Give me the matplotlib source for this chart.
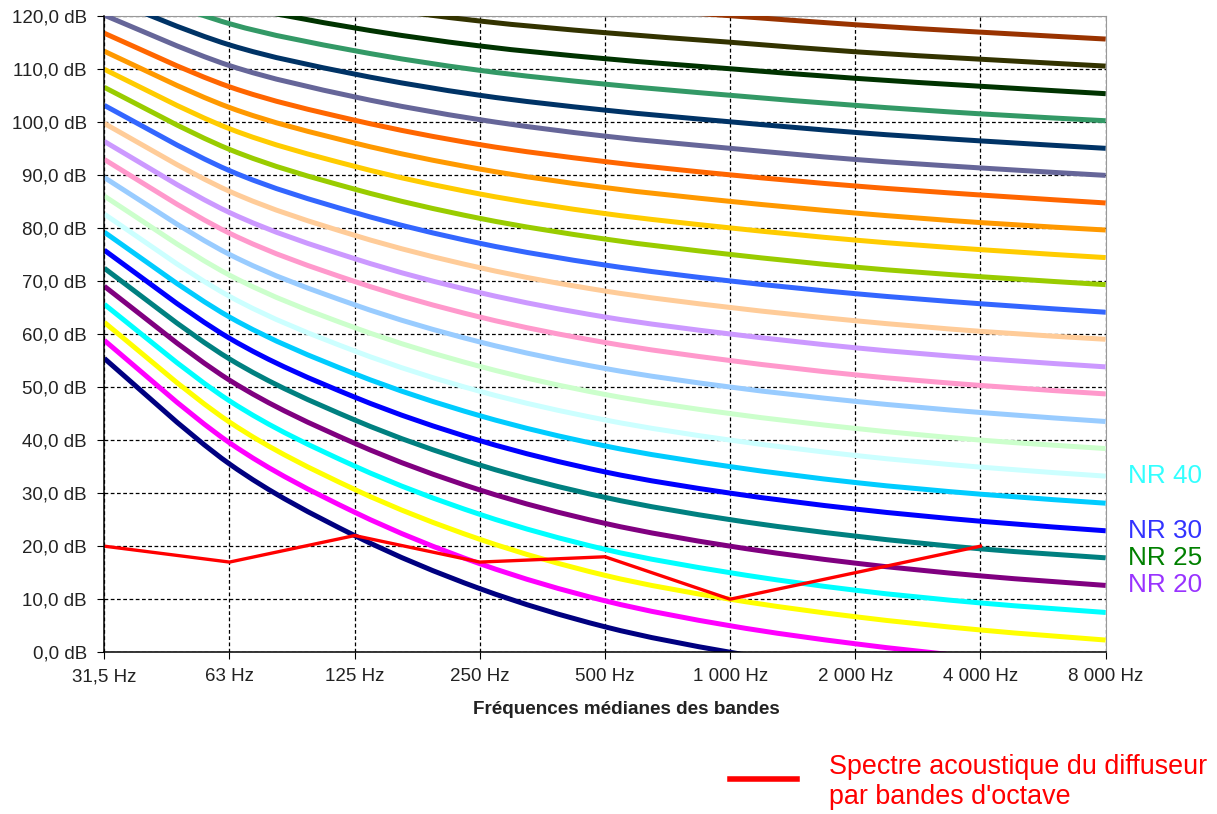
import matplotlib
matplotlib.use("Agg")
import matplotlib.pyplot as plt
from matplotlib.path import Path
from matplotlib.patches import PathPatch
from matplotlib.lines import Line2D
from matplotlib.transforms import offset_copy

plt.rcParams['font.family'] = ['Liberation Sans', 'DejaVu Sans']
plt.rcParams['ytick.major.pad'] = 7.5
plt.rcParams['xtick.major.size'] = 5
plt.rcParams['ytick.major.size'] = 5

bands = ["31,5 Hz", "63 Hz", "125 Hz", "250 Hz", "500 Hz",
         "1 000 Hz", "2 000 Hz", "4 000 Hz", "8 000 Hz"]

# NR curves, levels in dB per octave band (31,5 Hz ... 8 000 Hz)
nr_levels = [0, 5, 10, 15, 20, 25, 30, 35, 40, 45, 50, 55, 60,
             65, 70, 75, 80, 85, 90, 95, 100, 105, 110, 115, 120]
nr_values = [
    [55.4, 35.5, 22.0, 12.0, 4.8, 0.0, -3.5, -6.1, -8.0],
    [58.8, 39.5, 26.4, 16.7, 9.7, 5.0, 1.6, -1.0, -2.9],
    [62.2, 43.4, 30.7, 21.3, 14.5, 10.0, 6.7, 4.2, 2.3],
    [65.6, 47.4, 35.1, 26.0, 19.4, 15.0, 11.7, 9.3, 7.5],
    [69.0, 51.3, 39.4, 30.6, 24.3, 20.0, 16.8, 14.4, 12.6],
    [72.4, 55.3, 43.8, 35.3, 29.2, 25.0, 21.9, 19.5, 17.8],
    [75.8, 59.2, 48.1, 39.9, 34.0, 30.0, 27.0, 24.7, 22.9],
    [79.2, 63.2, 52.5, 44.6, 38.9, 35.0, 32.0, 29.8, 28.1],
    [82.6, 67.1, 56.8, 49.2, 43.8, 40.0, 37.1, 34.9, 33.2],
    [86.0, 71.1, 61.2, 53.9, 48.6, 45.0, 42.2, 40.0, 38.4],
    [89.5, 75.0, 65.5, 58.5, 53.5, 50.0, 47.3, 45.2, 43.5],
    [92.9, 79.0, 69.9, 63.2, 58.4, 55.0, 52.3, 50.3, 48.7],
    [96.3, 82.9, 74.2, 67.8, 63.2, 60.0, 57.4, 55.4, 53.8],
    [99.7, 86.9, 78.6, 72.5, 68.1, 65.0, 62.5, 60.5, 59.0],
    [103.1, 90.8, 82.9, 77.1, 73.0, 70.0, 67.6, 65.7, 64.1],
    [106.5, 94.8, 87.3, 81.8, 77.9, 75.0, 72.6, 70.8, 69.3],
    [109.9, 98.7, 91.6, 86.4, 82.7, 80.0, 77.7, 75.9, 74.4],
    [113.3, 102.7, 96.0, 91.1, 87.6, 85.0, 82.8, 81.0, 79.6],
    [116.7, 106.6, 100.3, 95.7, 92.5, 90.0, 87.9, 86.2, 84.7],
    [120.1, 110.6, 104.7, 100.4, 97.3, 95.0, 92.9, 91.3, 89.9],
    [123.5, 114.5, 109.0, 105.0, 102.2, 100.0, 98.0, 96.4, 95.0],
    [126.9, 118.5, 113.4, 109.7, 107.1, 105.0, 103.1, 101.5, 100.2],
    [130.3, 122.4, 117.7, 114.3, 111.9, 110.0, 108.2, 106.7, 105.3],
    [133.7, 126.4, 122.1, 119.0, 116.8, 115.0, 113.2, 111.8, 110.5],
    [137.1, 130.3, 126.4, 123.6, 121.7, 120.0, 118.3, 116.9, 115.6],
]
nr_colors = ["#000080", "#FF00FF", "#FFFF00", "#00FFFF", "#800080",
             "#008080", "#0000FF", "#00CCFF", "#CCFFFF", "#CCFFCC",
             "#99CCFF", "#FF99CC", "#CC99FF", "#FFCC99", "#3366FF",
             "#99CC00", "#FFCC00", "#FF9900", "#FF6600", "#666699",
             "#003366", "#339966", "#003300", "#333300", "#993300"]

# measured spectrum (stops at 4 000 Hz)
spectrum = [20, 17, 22, 17, 18, 10, 15, 20]

labels = ["NR 40", "NR 30", "NR 25", "NR 20"]
label_levels = [40, 30, 25, 20]
label_colors = ["#33FFFF", "#3333FF", "#008000", "#9933FF"]


def smooth_path(xs, ys):
    # bezier through points, like a spreadsheet "smoothed line"
    n = len(xs)
    verts = [(xs[0], ys[0])]
    codes = [Path.MOVETO]
    for i in range(n - 1):
        a = max(i - 1, 0)
        d = min(i + 2, n - 1)
        c1 = (xs[i] + (xs[i + 1] - xs[a]) / 6, ys[i] + (ys[i + 1] - ys[a]) / 6)
        c2 = (xs[i + 1] - (xs[d] - xs[i]) / 6, ys[i + 1] - (ys[d] - ys[i]) / 6)
        verts += [c1, c2, (xs[i + 1], ys[i + 1])]
        codes += [Path.CURVE4] * 3
    return Path(verts, codes)


fig = plt.figure(figsize=(12.17, 8.14), dpi=100)
ax = fig.add_axes([0.0857, 0.1987, 0.8228, 0.782])

x = list(range(len(bands)))
for vals, col in zip(nr_values, nr_colors):
    patch = PathPatch(smooth_path(x, vals), facecolor='none', edgecolor=col,
                      lw=3.6, capstyle='butt', zorder=3)
    ax.add_patch(patch)

ax.plot(range(len(spectrum)), spectrum, color='#FF0000', lw=2.4, zorder=5)

ax.set_xlim(0, 8)
ax.set_ylim(0, 120)
ax.set_xticks(x)
ax.tick_params(axis='x', labelbottom=False)
# band labels with a common baseline
lab_tr = offset_copy(ax.get_xaxis_transform(), fig=fig, y=-29, units='dots')
for i, b in enumerate(bands):
    ax.text(i, 0, b, transform=lab_tr, ha='center', va='baseline',
            fontsize=13.5, color='#222222', clip_on=False)
ax.set_yticks(range(0, 121, 10))
ax.set_yticklabels(["%d,0 dB" % v for v in range(0, 121, 10)],
                   fontsize=13.5, color='#222222')
ax.grid(True, color='black', linestyle=(0, (3, 2)), linewidth=0.9, zorder=1)
ax.set_axisbelow(True)
for s in ['top', 'right']:
    ax.spines[s].set_color('#999999')
for s in ['left', 'bottom']:
    ax.spines[s].set_color('black')
    ax.spines[s].set_linewidth(1.1)
    ax.spines[s].set_zorder(6)

fig.text(626 / 1217, 1 - 710 / 814, "Fréquences médianes des bandes",
         fontsize=13.6, fontweight='bold', color='#222222',
         ha='center', va='center')

for txt, lev, col in zip(labels, label_levels, label_colors):
    yv = nr_values[nr_levels.index(lev)][-1]
    ax.text(8.18, yv, txt, color=col, fontsize=18.8, va='center',
            ha='left', clip_on=False)

# legend drawn by hand at bottom right
fig.add_artist(Line2D([730 / 1217, 797 / 1217], [1 - 779 / 814, 1 - 779 / 814],
                      color='#FF0000', lw=4))
fig.text(829 / 1217, 1 - 782 / 814,
         "Spectre acoustique du diffuseur\npar bandes d'octave",
         color='#FF0000', fontsize=19.4, va='center', ha='left',
         linespacing=1.15)

fig.savefig("out.png", dpi=100)
